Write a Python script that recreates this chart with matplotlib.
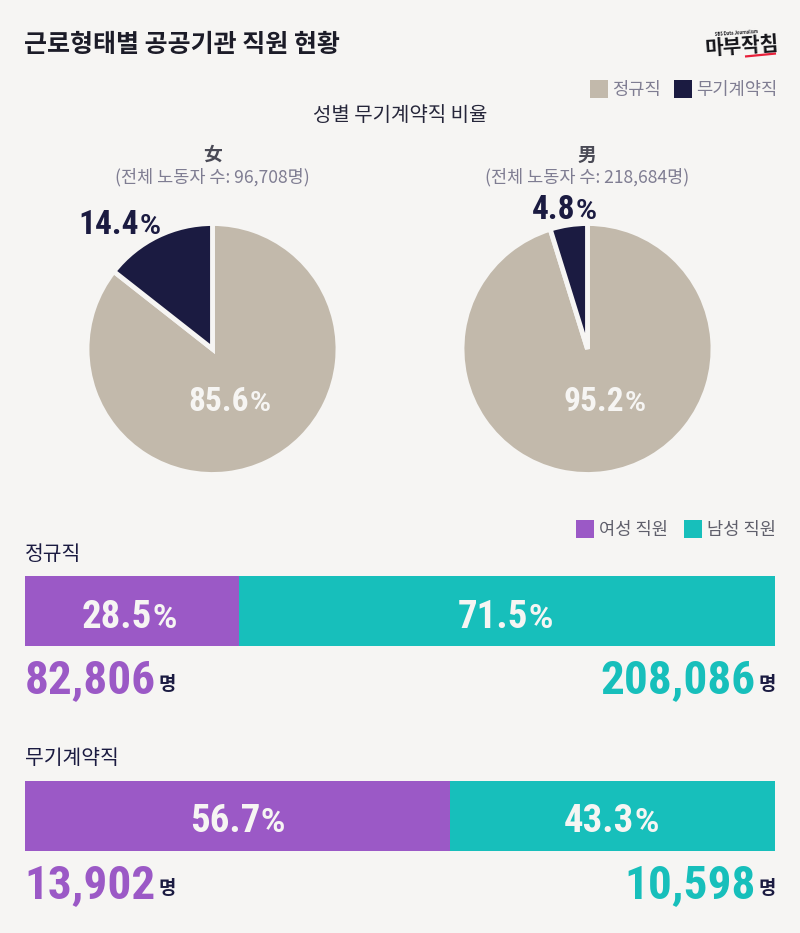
import matplotlib
matplotlib.use("Agg")
import matplotlib.pyplot as plt

KR = ['Noto Sans CJK KR', 'DejaVu Sans']
NUM = 'Roboto Condensed'
plt.rcParams['font.family'] = KR

# data
pie_labels = ['정규직', '무기계약직']
pie_women = [85.6, 14.4]
pie_men = [95.2, 4.8]
regular_share = [28.5, 71.5]
indefinite_share = [56.7, 43.3]
regular_counts = ['82,806', '208,086']
indefinite_counts = ['13,902', '10,598']

BG = '#f6f5f3'
BEIGE = '#c2b9ab'
NAVY = '#1b1b41'
PURPLE = '#9b59c6'
TEAL = '#17bfbb'
GREY = '#7f7d92'
W, H = 800, 933

fig = plt.figure(figsize=(8, 9.33), dpi=100, facecolor=BG)


def px_axes(x0, y0, x1, y1):
    # axes placed by pixel box, y measured from the top
    return fig.add_axes([x0 / W, 1 - y1 / H, (x1 - x0) / W, (y1 - y0) / H])


def draw_pie(cx, values):
    r = 125.5
    ax = px_axes(cx - r, 349 - r, cx + r, 349 + r)
    ax.pie(values, colors=[BEIGE, NAVY], startangle=90, counterclock=False, radius=1,
           wedgeprops=dict(edgecolor=BG, linewidth=3.5))
    ax.set_xlim(-1, 1)
    ax.set_ylim(-1, 1)
    ax.axis('off')


def draw_bar(y0, y1, values):
    ax = px_axes(24.7, y0, 775, y1)
    ax.barh([0], [values[0]], left=0, height=1, color=PURPLE)
    ax.barh([0], [values[1]], left=values[0], height=1, color=TEAL)
    ax.set_xlim(0, 100)
    ax.set_ylim(-0.5, 0.5)
    ax.axis('off')


draw_pie(212.5, pie_women)
draw_pie(587.5, pie_men)
draw_bar(576, 646, regular_share)
draw_bar(781, 851, indefinite_share)

# overlay for text, in pixel coordinates
ov = fig.add_axes([0, 0, 1, 1], zorder=5)
ov.set_xlim(0, W)
ov.set_ylim(H, 0)
ov.axis('off')


def pct(x, y, value, color, size=24):
    # number and smaller percent sign meet at x
    ov.text(x, y, value, family=NUM, fontsize=size, fontweight='bold', color=color,
            ha='right', va='center')
    ov.text(x + 1, y + 1.5, '%', family='Roboto', fontsize=size * 0.85, fontweight='bold', color=color,
            ha='left', va='center')


def count(x, y, value, color):
    # count right-aligned at x with the unit after it
    ov.text(x, y, value, family=NUM, fontsize=34, fontweight='bold', color=color,
            ha='right', va='center')
    ov.text(x + 3, y + 4, '명', fontsize=13.5, fontweight='bold', color=NAVY,
            ha='left', va='center')


ov.text(24, 45, '근로형태별 공공기관 직원 현황', fontsize=18, fontweight='bold',
        color='#1c1c28', ha='left', va='center')

# logo
ov.text(742, 46, '마부작침', fontsize=14.5, fontweight='black', color='#15151a',
        ha='center', va='center', rotation=4)
ov.text(736, 33, 'SBS Data Journalism', fontsize=3, fontweight='bold', color='#15151a',
        ha='center', va='center', rotation=4)
ov.plot([745, 776], [56.5, 53.5], color='#e8203a', lw=1.6, solid_capstyle='butt')

# pie legend
ov.scatter([599], [88.5], marker='s', s=165, color=BEIGE, linewidths=0)
ov.text(612, 89.5, pie_labels[0], fontsize=12.7, color=GREY, ha='left', va='center')
ov.scatter([683], [88.5], marker='s', s=165, color=NAVY, linewidths=0)
ov.text(696.5, 89.5, pie_labels[1], fontsize=12.7, color=GREY, ha='left', va='center')

ov.text(400, 115.5, '성별 무기계약직 비율', fontsize=14.4, fontweight='medium', color='#26263a',
        ha='center', va='center')

ov.text(212, 155, '女', fontsize=13.5, fontweight='bold', color='#4a4a55', ha='center', va='center')
ov.text(212.5, 177, '(전체 노동자 수: 96,708명)', fontsize=12.6, color=GREY, ha='center', va='center')
ov.text(587, 155, '男', fontsize=13.5, fontweight='bold', color='#4a4a55', ha='center', va='center')
ov.text(587.5, 177, '(전체 노동자 수: 218,684명)', fontsize=12.6, color=GREY, ha='center', va='center')

pct(139, 225, '14.4', NAVY)
pct(575, 210, '4.8', NAVY)
pct(249, 402, '85.6', BG)
pct(624, 402, '95.2', BG)

# bar legend
ov.scatter([585], [528.5], marker='s', s=165, color=PURPLE, linewidths=0)
ov.text(599, 529.5, '여성 직원', fontsize=12.7, color='#5f5f6b', ha='left', va='center')
ov.scatter([693], [528.5], marker='s', s=165, color=TEAL, linewidths=0)
ov.text(707, 529.5, '남성 직원', fontsize=12.7, color='#5f5f6b', ha='left', va='center')

ov.text(25, 554, pie_labels[0], fontsize=14.7, fontweight='medium', color=NAVY, ha='left', va='center')
ov.text(25, 758, pie_labels[1], fontsize=14.7, fontweight='medium', color=NAVY, ha='left', va='center')

pct(152, 617, f'{regular_share[0]}', BG, size=28)
pct(528, 617, f'{regular_share[1]}', BG, size=28)
pct(260, 822, f'{indefinite_share[0]}', BG, size=28)
pct(634, 822, f'{indefinite_share[1]}', BG, size=28)

count(156, 680, regular_counts[0], PURPLE)
count(755.5, 680, regular_counts[1], TEAL)
count(156, 885, indefinite_counts[0], PURPLE)
count(755.5, 885, indefinite_counts[1], TEAL)

fig.savefig('out.png', dpi=100, facecolor=BG)
